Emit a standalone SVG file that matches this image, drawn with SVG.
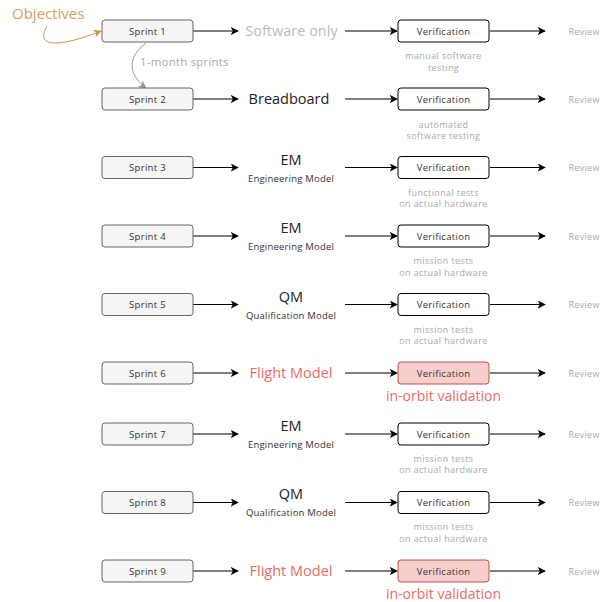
<svg xmlns="http://www.w3.org/2000/svg" width="609" height="602" viewBox="0 0 609 602">
<defs>
<marker id="ah" viewBox="0 0 10 10" refX="9" refY="5" markerWidth="8" markerHeight="8" markerUnits="userSpaceOnUse" orient="auto"><path d="M0,0 L10,5 L0,10 L2.5,5 Z" fill="#000"/></marker>
<marker id="ahg" viewBox="0 0 10 10" refX="9" refY="5" markerWidth="8" markerHeight="8" markerUnits="userSpaceOnUse" orient="auto"><path d="M0,0 L10,5 L0,10 L2.5,5 Z" fill="#999"/></marker>
<marker id="aho" viewBox="0 0 10 10" refX="9" refY="5" markerWidth="8" markerHeight="8" markerUnits="userSpaceOnUse" orient="auto"><path d="M0,0 L10,5 L0,10 L2.5,5 Z" fill="#c9954f"/></marker>
<style>
text{font-family:"Open Sans","Liberation Sans",sans-serif;}
.sp{fill:#f5f5f5;stroke:#666;stroke-width:1;}
.vf{fill:#fff;stroke:#000;stroke-width:1;}
.vr{fill:#f8cecc;stroke:#b85450;stroke-width:1;}
.bt{font-size:9.5px;fill:#333;text-anchor:middle;letter-spacing:0.3px;}
.big{font-size:14.5px;fill:#222;text-anchor:middle;}
.sm{font-size:9.5px;fill:#333;text-anchor:middle;letter-spacing:0.2px;}
.red{font-size:14.5px;fill:#ea6b66;text-anchor:middle;}
.redv{font-size:14px;fill:#ea6b66;text-anchor:middle;}
.gry{font-size:9px;fill:#aaa;text-anchor:middle;letter-spacing:0.4px;}
.rev{font-size:9px;fill:#aaa;letter-spacing:0.3px;}
.ln{stroke:#000;stroke-width:1;fill:none;marker-end:url(#ah);}
</style>
</defs>
<rect width="609" height="602" fill="#fff"/>

<g id="connectors">
<path class="ln" d="M193 31 H238"/><path class="ln" d="M345 31 H397"/><path class="ln" d="M490 31 H545"/>
<path class="ln" d="M193 99 H238"/><path class="ln" d="M345 99 H397"/><path class="ln" d="M490 99 H545"/>
<path class="ln" d="M193 167.5 H238"/><path class="ln" d="M345 167.5 H397"/><path class="ln" d="M490 167.5 H545"/>
<path class="ln" d="M193 236 H238"/><path class="ln" d="M345 236 H397"/><path class="ln" d="M490 236 H545"/>
<path class="ln" d="M193 304.5 H238"/><path class="ln" d="M345 304.5 H397"/><path class="ln" d="M490 304.5 H545"/>
<path class="ln" d="M193 373 H238"/><path class="ln" d="M345 373 H397"/><path class="ln" d="M490 373 H545"/>
<path class="ln" d="M193 434 H238"/><path class="ln" d="M345 434 H397"/><path class="ln" d="M490 434 H545"/>
<path class="ln" d="M193 502.5 H238"/><path class="ln" d="M345 502.5 H397"/><path class="ln" d="M490 502.5 H545"/>
<path class="ln" d="M193 571 H238"/><path class="ln" d="M345 571 H397"/><path class="ln" d="M490 571 H545"/>
<path d="M47 26 C41 36,42 44,58 43 C72 42,88 36,101 31" fill="none" stroke="#c9954f" stroke-width="1" marker-end="url(#aho)"/>
<path d="M146 43 C128 56,127 74,146 88" fill="none" stroke="#999" stroke-width="1" marker-end="url(#ahg)"/>
</g>

<g id="objectives"><text x="12" y="19" font-size="15" fill="#d4a060">Objectives</text></g>
<g id="sprint-label"><rect x="137" y="55" width="94" height="14" fill="#fff"/><text x="140" y="66" font-size="11.5" fill="#aaa" letter-spacing="0.2">1-month sprints</text></g>

<g id="sprint1"><rect class="sp" x="102" y="20" width="91" height="22" rx="3"/><text class="bt" x="147.5" y="34.5">Sprint 1</text></g>
<g id="sprint2"><rect class="sp" x="102" y="88" width="91" height="22" rx="3"/><text class="bt" x="147.5" y="102.5">Sprint 2</text></g>
<g id="sprint3"><rect class="sp" x="102" y="156.5" width="91" height="22" rx="3"/><text class="bt" x="147.5" y="171">Sprint 3</text></g>
<g id="sprint4"><rect class="sp" x="102" y="225" width="91" height="22" rx="3"/><text class="bt" x="147.5" y="239.5">Sprint 4</text></g>
<g id="sprint5"><rect class="sp" x="102" y="293.5" width="91" height="22" rx="3"/><text class="bt" x="147.5" y="308">Sprint 5</text></g>
<g id="sprint6"><rect class="sp" x="102" y="362" width="91" height="22" rx="3"/><text class="bt" x="147.5" y="376.5">Sprint 6</text></g>
<g id="sprint7"><rect class="sp" x="102" y="423" width="91" height="22" rx="3"/><text class="bt" x="147.5" y="437.5">Sprint 7</text></g>
<g id="sprint8"><rect class="sp" x="102" y="491.5" width="91" height="22" rx="3"/><text class="bt" x="147.5" y="506">Sprint 8</text></g>
<g id="sprint9"><rect class="sp" x="102" y="560" width="91" height="22" rx="3"/><text class="bt" x="147.5" y="574.5">Sprint 9</text></g>

<g id="model1"><text class="big" x="291.5" y="36" style="fill:#bbb">Software only</text></g>
<g id="model2"><text class="big" x="289" y="104">Breadboard</text></g>
<g id="model3"><text class="big" x="291" y="165">EM</text><text class="sm" x="291" y="182">Engineering Model</text></g>
<g id="model4"><text class="big" x="291" y="233">EM</text><text class="sm" x="291" y="250">Engineering Model</text></g>
<g id="model5"><text class="big" x="291" y="302">QM</text><text class="sm" x="291" y="319">Qualification Model</text></g>
<g id="model6"><text class="red" x="291" y="378">Flight Model</text></g>
<g id="model7"><text class="big" x="291" y="431">EM</text><text class="sm" x="291" y="448">Engineering Model</text></g>
<g id="model8"><text class="big" x="291" y="499">QM</text><text class="sm" x="291" y="516">Qualification Model</text></g>
<g id="model9"><text class="red" x="291" y="576">Flight Model</text></g>

<g id="verif1"><rect class="vf" x="398" y="20" width="91" height="22" rx="3"/><text class="bt" x="443.5" y="34.5">Verification</text><text class="gry" x="443.5" y="59">manual software</text><text class="gry" x="443.5" y="70.5">testing</text></g>
<g id="verif2"><rect class="vf" x="398" y="88" width="91" height="22" rx="3"/><text class="bt" x="443.5" y="102.5">Verification</text><text class="gry" x="443.5" y="127.5">automated</text><text class="gry" x="443.5" y="139">software testing</text></g>
<g id="verif3"><rect class="vf" x="398" y="156.5" width="91" height="22" rx="3"/><text class="bt" x="443.5" y="171">Verification</text><text class="gry" x="443.5" y="195.5">functional tests</text><text class="gry" x="443.5" y="207">on actual hardware</text></g>
<g id="verif4"><rect class="vf" x="398" y="225" width="91" height="22" rx="3"/><text class="bt" x="443.5" y="239.5">Verification</text><text class="gry" x="443.5" y="264">mission tests</text><text class="gry" x="443.5" y="275.5">on actual hardware</text></g>
<g id="verif5"><rect class="vf" x="398" y="293.5" width="91" height="22" rx="3"/><text class="bt" x="443.5" y="308">Verification</text><text class="gry" x="443.5" y="332.5">mission tests</text><text class="gry" x="443.5" y="344">on actual hardware</text></g>
<g id="verif6"><rect class="vr" x="398" y="362" width="91" height="22" rx="3"/><text class="bt" x="443.5" y="376.5">Verification</text><text class="redv" x="443.5" y="400.5">in-orbit validation</text></g>
<g id="verif7"><rect class="vf" x="398" y="423" width="91" height="22" rx="3"/><text class="bt" x="443.5" y="437.5">Verification</text><text class="gry" x="443.5" y="461.5">mission tests</text><text class="gry" x="443.5" y="473">on actual hardware</text></g>
<g id="verif8"><rect class="vf" x="398" y="491.5" width="91" height="22" rx="3"/><text class="bt" x="443.5" y="506">Verification</text><text class="gry" x="443.5" y="530">mission tests</text><text class="gry" x="443.5" y="541.5">on actual hardware</text></g>
<g id="verif9"><rect class="vr" x="398" y="560" width="91" height="22" rx="3"/><text class="bt" x="443.5" y="574.5">Verification</text><text class="redv" x="443.5" y="598.5">in-orbit validation</text></g>

<g id="reviews">
<text class="rev" x="568.5" y="34.5">Review</text>
<text class="rev" x="568.5" y="102.5">Review</text>
<text class="rev" x="568.5" y="171">Review</text>
<text class="rev" x="568.5" y="239.5">Review</text>
<text class="rev" x="568.5" y="308">Review</text>
<text class="rev" x="568.5" y="376.5">Review</text>
<text class="rev" x="568.5" y="437.5">Review</text>
<text class="rev" x="568.5" y="506">Review</text>
<text class="rev" x="568.5" y="574.5">Review</text>
</g>
</svg>
